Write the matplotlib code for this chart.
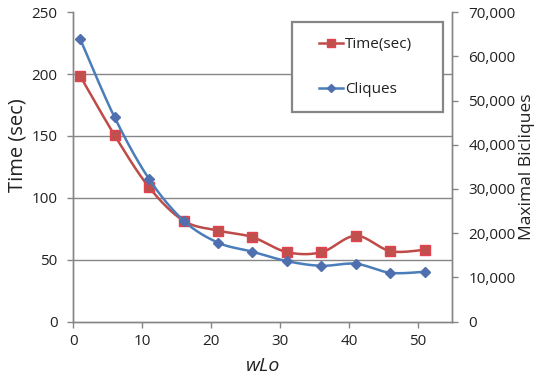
import matplotlib
matplotlib.use("Agg")
import matplotlib.pyplot as plt
from matplotlib.lines import Line2D
from matplotlib.patches import Rectangle
import matplotlib.ticker as mticker
import numpy as np

plt.rcParams["font.family"] = ["Open Sans", "DejaVu Sans"]

# values
wlo = [1, 6, 11, 16, 21, 26, 31, 36, 41, 46, 51]
time_sec = [198.5, 150.5, 108.5, 81.5, 73.5, 68.2, 56.1, 56.0, 69.3, 56.9, 58.0]
cliques = [63950, 46200, 32250, 22850, 17850, 15800, 13670, 12610, 13070, 11030, 11260]

RED_LINE = "#BE4B48"
RED_FACE = "#C0504D"
RED_EDGE = "#E2434F"
BLUE_LINE = "#4A7EBB"
BLUE_FACE = "#4F6FAF"
GRAY = "#868686"
TEXT = "#222222"


def _smooth(x, y, n=30):
    """Excel-style smoothed line: cubic Bezier segments through the points."""
    p = np.column_stack([x, y]).astype(float)
    ext = np.vstack([p[0], p, p[-1]])
    t = np.linspace(0, 1, n)[:, None]
    out = []
    for i in range(1, len(ext) - 2):
        p0, p1, p2, p3 = ext[i - 1], ext[i], ext[i + 1], ext[i + 2]
        c1 = p1 + (p2 - p0) / 6.0
        c2 = p2 - (p3 - p1) / 6.0
        seg = ((1 - t) ** 3) * p1 + 3 * ((1 - t) ** 2) * t * c1 + 3 * (1 - t) * t ** 2 * c2 + t ** 3 * p2
        out.append(seg if i == 1 else seg[1:])
    seg = np.vstack(out)
    return seg[:, 0], seg[:, 1]


W, H = 542, 378
fig = plt.figure(figsize=(W / 100, H / 100), dpi=100)
ax1 = fig.add_axes([73.3 / W, (H - 321.5) / H, 379 / W, 309.2 / H])
ax2 = ax1.twinx()

sx, sy = _smooth(wlo, time_sec)
ax1.plot(sx, sy, color=RED_LINE, lw=1.8, zorder=3)
ax1.plot(wlo, time_sec, ls="none", marker="s", ms=6.5, mfc=RED_FACE, mec=RED_EDGE, mew=1.0, zorder=4)

cx, cy = _smooth(wlo, cliques)
ax2.plot(cx, cy, color=BLUE_LINE, lw=1.8, zorder=3)
ax2.plot(wlo, cliques, ls="none", marker="D", ms=5, mfc=BLUE_FACE, mec=BLUE_FACE, zorder=4)

ax1.set_xlim(0, 55)
ax1.set_ylim(0, 250)
ax2.set_ylim(0, 70000)
ax1.set_xticks(range(0, 51, 10))
ax1.set_yticks(range(0, 251, 50))
ax2.set_yticks(range(0, 70001, 10000))
ax2.yaxis.set_major_formatter(mticker.StrMethodFormatter("{x:,.0f}"))

for y in [50, 100, 150, 200]:
    ax1.axhline(y, color=GRAY, lw=1.0, zorder=1)

for ax in (ax1, ax2):
    ax.spines["top"].set_visible(False)
    for s in ("left", "right", "bottom"):
        ax.spines[s].set_color(GRAY)
        ax.spines[s].set_linewidth(1.0)
    ax.tick_params(colors=GRAY, labelcolor=TEXT, labelsize=11, length=4, width=1.0)
ax1.tick_params(axis="y", pad=7.3)
ax1.tick_params(axis="x", pad=5)
ax2.tick_params(axis="y", pad=7.5)

# axis titles placed where the reference has them
fig.text(18 / W, 1 - 145 / H, "Time (sec)", rotation=90, ha="center", va="center",
         fontsize=14.5, color=TEXT)
fig.text(527 / W, 1 - 167 / H, "Maximal Bicliques", rotation=90, ha="center", va="center",
         fontsize=12.5, color=TEXT)
fig.text(263.3 / W, 1 - 366 / H, "wLo", ha="center", va="center", fontsize=14,
         style="italic", color=TEXT)

# legend box
box = Rectangle((0.577, 0.678), 0.398, 0.291, transform=ax2.transAxes, fill=True,
                facecolor="white", edgecolor=GRAY, lw=1.6, zorder=5, clip_on=False)
ax2.add_patch(box)
handles = [
    Line2D([], [], color=RED_LINE, lw=1.8, marker="s", ms=6, mfc=RED_FACE, mec=RED_EDGE),
    Line2D([], [], color=BLUE_LINE, lw=1.8, marker="D", ms=4.5, mfc=BLUE_FACE, mec=BLUE_FACE),
]
leg = ax2.legend(handles, ["Time(sec)", "Cliques"], loc="center left",
                 bbox_to_anchor=(0.648, 0.822), frameon=False, fontsize=11,
                 handlelength=1.57, handletextpad=0.13, labelspacing=1.95,
                 borderpad=0.0, borderaxespad=0.0)
for t in leg.get_texts():
    t.set_color(TEXT)
leg.set_zorder(6)

fig.savefig("out.png", dpi=100)
